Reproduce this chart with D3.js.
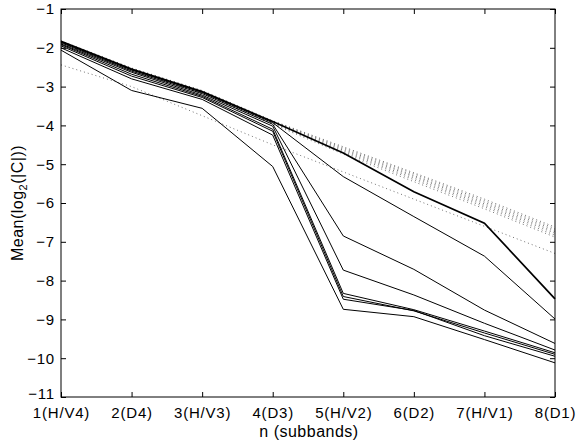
<!DOCTYPE html>
<html><head><meta charset="utf-8">
<script src="https://cdn.jsdelivr.net/npm/d3@7"></script>
<style>body{margin:0;background:#fff}svg{display:block}text{font-family:"Liberation Sans",Arial,Helvetica,sans-serif;fill:#000}</style>
</head><body><svg id="c" width="579" height="440"></svg>
<script>
const categories = ["1(H/V4)","2(D4)","3(H/V3)","4(D3)","5(H/V2)","6(D2)","7(H/V1)","8(D1)"];
const yTicks = [-1,-2,-3,-4,-5,-6,-7,-8,-9,-10,-11];
// solid series
const solidA = [-1.83,-2.55,-3.13,-3.90,-4.71,-5.71,-6.52,-8.47];
const solidB = [-1.85,-2.57,-3.15,-3.93,-5.32,-6.35,-7.37,-8.99];
const solidC = [-1.87,-2.60,-3.18,-3.97,-6.85,-7.71,-8.76,-9.62];
const solidD = [-1.90,-2.63,-3.22,-4.02,-7.73,-8.37,-9.10,-9.79];
const solidE = [-1.92,-2.68,-3.25,-4.10,-8.33,-8.75,-9.30,-9.86];
const solidF = [-1.95,-2.73,-3.28,-4.15,-8.41,-8.78,-9.35,-9.90];
const solidG = [-2.00,-2.80,-3.33,-4.25,-8.48,-8.77,-9.42,-9.95];
const solidH = [-2.06,-3.10,-3.56,-5.06,-8.74,-8.93,-9.52,-10.12];
// dotted series
const dot1 = [-1.82,-2.52,-3.10,-3.88,-4.55,-5.22,-5.90,-6.62];
const dot2 = [-1.83,-2.53,-3.11,-3.89,-4.58,-5.25,-5.94,-6.66];
const dot3 = [-1.84,-2.54,-3.13,-3.90,-4.61,-5.29,-5.98,-6.70];
const dot4 = [-1.85,-2.55,-3.14,-3.92,-4.64,-5.32,-6.02,-6.74];
const dot5 = [-1.86,-2.56,-3.16,-3.93,-4.67,-5.36,-6.06,-6.78];
const dot6 = [-1.87,-2.58,-3.17,-3.95,-4.70,-5.40,-6.10,-6.83];
const dot7 = [-1.89,-2.59,-3.19,-3.97,-4.74,-5.45,-6.15,-6.88];
const dot8 = [-2.44,-3.00,-3.75,-4.50,-5.20,-5.90,-6.60,-7.30];

const solids = [solidA,solidB,solidC,solidD,solidE,solidF,solidG,solidH];
const dotteds = [dot1,dot2,dot3,dot4,dot5,dot6,dot7,dot8];

const svg = d3.select("#c");
const L=61, R=555, T=9, B=397;
const x = d3.scalePoint().domain(categories).range([L,R]);
const y = d3.scaleLinear().domain([-11,-1]).range([B,T]);
const line = d3.line().x((d,i)=>x(categories[i])).y(d=>y(d));

const g = svg.append("g");
dotteds.forEach(s=>{
  g.append("path").attr("d",line(s)).attr("fill","none").attr("stroke","#000")
   .attr("stroke-width",0.8).attr("stroke-dasharray","1,3").attr("opacity",0.7);
});
solids.forEach((s,i)=>{
  g.append("path").attr("d",line(s)).attr("fill","none").attr("stroke","#000")
   .attr("stroke-width", i===0?1.7:1);
});

// axes
const fmt = d=> d<0 ? "\u2212"+Math.abs(d) : ""+d;
const ax = svg.append("g");
ax.append("rect").attr("x",L).attr("y",T).attr("width",R-L).attr("height",B-T)
  .attr("fill","none").attr("stroke","#000").attr("stroke-width",1);

const yl = d3.axisLeft(y).tickValues(yTicks).tickSize(-5).tickPadding(6).tickFormat(fmt);
const yr = d3.axisRight(y).tickValues(yTicks).tickSize(-5).tickFormat("");
const xb = d3.axisBottom(x).tickSize(-5).tickPadding(10.5);
const xt = d3.axisTop(x).tickSize(-5).tickFormat("");
[[yl,`translate(${L},0)`],[yr,`translate(${R},0)`],[xb,`translate(0,${B})`],[xt,`translate(0,${T})`]].forEach(([a,t])=>{
  const gg = ax.append("g").attr("transform",t).call(a);
  gg.select(".domain").remove();
  gg.selectAll("line").attr("stroke","#000");
  gg.selectAll("text").attr("font-size",15).attr("letter-spacing",0.8)
    .attr("font-family","Liberation Sans, Arial, sans-serif").attr("fill","#000");
});
// nudge lowest y label slightly up, as in reference
ax.selectAll("text").filter(d=>d===-11).attr("dy","0.1em");

svg.append("text").attr("x",(L+R)/2+1).attr("y",437).attr("text-anchor","middle")
  .attr("font-size",16).attr("letter-spacing",0.5).text("n (subbands)");
const yt = svg.append("text").attr("transform",`translate(23,${(T+B)/2}) rotate(-90)`)
  .attr("text-anchor","middle").attr("font-size",16).attr("letter-spacing",0.5);
yt.append("tspan").text("Mean(log");
yt.append("tspan").attr("font-size",11).attr("dy",4).text("2");
yt.append("tspan").attr("dy",-4).text("(|C|))");
</script></body></html>
